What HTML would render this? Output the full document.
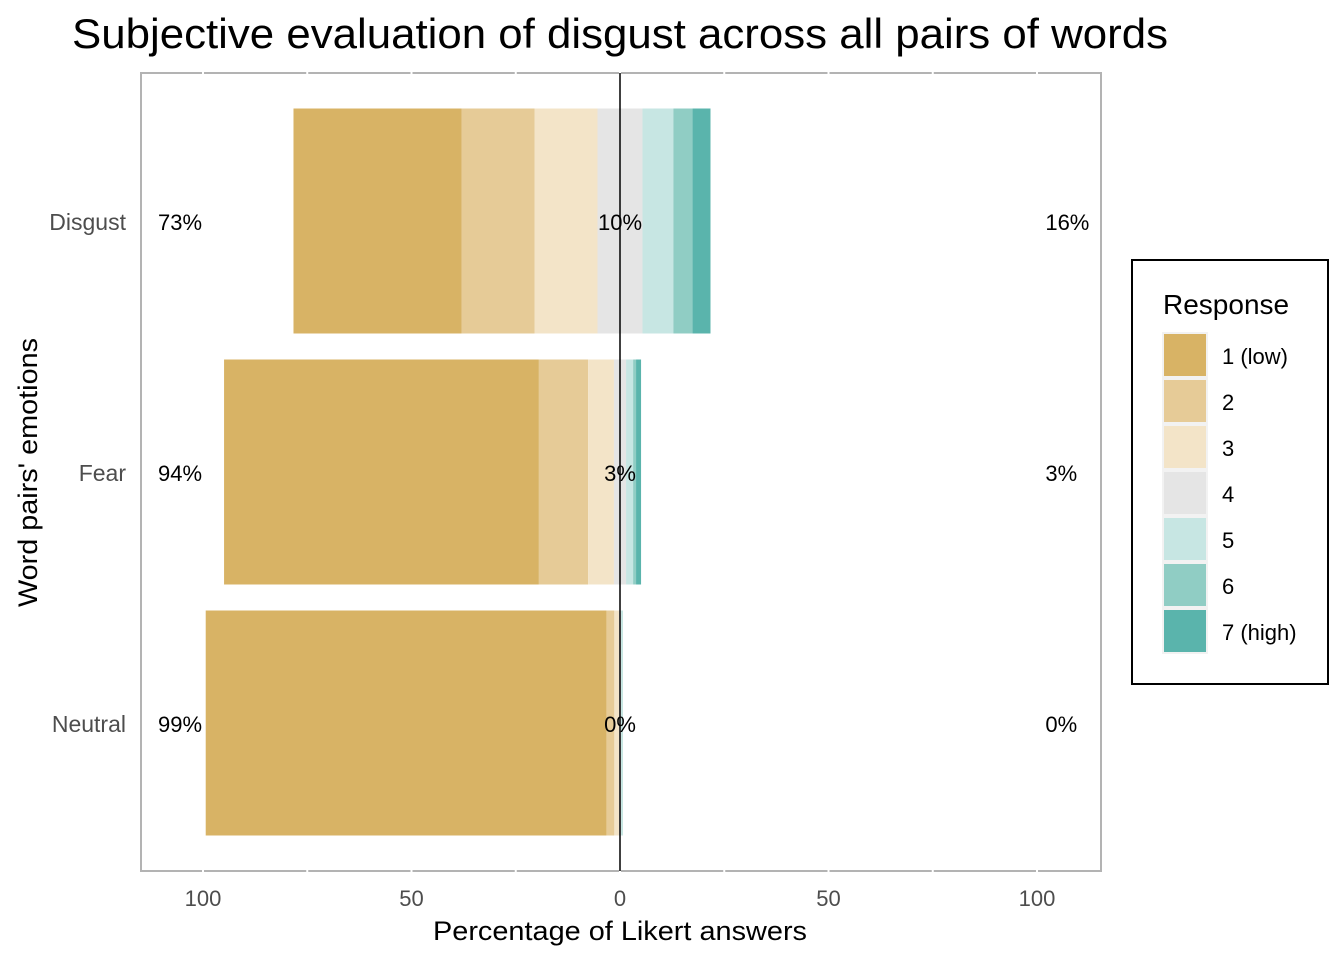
<!DOCTYPE html>
<html><head><meta charset="utf-8"><style>
html,body{margin:0;padding:0;background:#fff}
svg{display:block;font-family:"Liberation Sans",Arial,sans-serif}
</style></head><body>
<svg id="chart" width="1344" height="960" xmlns="http://www.w3.org/2000/svg">
<text x="72" y="48" font-size="42" textLength="1096" lengthAdjust="spacingAndGlyphs" fill="#000">Subjective evaluation of disgust across all pairs of words</text>
<g id="grid"></g>
<g id="bars"></g>
<rect x="141" y="73" width="960" height="798" fill="none" stroke="#b3b3b3" stroke-width="2"/>
<g id="grid2"></g>
<g id="labels"></g>
<g id="axes"></g>
<text x="433" y="940" font-size="27" textLength="374" lengthAdjust="spacingAndGlyphs">Percentage of Likert answers</text>
<text transform="translate(37,607) rotate(-90)" font-size="27" textLength="269" lengthAdjust="spacingAndGlyphs">Word pairs' emotions</text>
<g id="legend"></g>
</svg>
<script>
const categories = ["Disgust","Fear","Neutral"];
const levels = ["1 (low)","2","3","4","5","6","7 (high)"];
const colors = ["#d8b365","#e6cb97","#f3e4c8","#e5e5e5","#c7e6e3","#90cdc4","#5ab4ac"];
const valuesDisgust = [40.3,17.5,15.1,10.8,7.4,4.6,4.3];
const valuesFear = [75.5,11.8,6.2,2.9,1.7,0.7,1.2];
const valuesNeutral = [96.1,1.9,1.1,0.5,0.3,0.1,0.0];
const lowLabels = ["73%","94%","99%"];
const midLabels = ["10%","3%","0%"];
const highLabels = ["16%","3%","0%"];
const xTicks = [-100,-50,0,50,100];
const NS="http://www.w3.org/2000/svg";
const series=[valuesDisgust,valuesFear,valuesNeutral];
const x=v=>620+v*4.17;
const yC=i=>221+i*251;
const bw=225;
function mk(tag,attrs,parent){const e=document.createElementNS(NS,tag);for(const k in attrs)e.setAttribute(k,attrs[k]);parent.appendChild(e);return e;}
const g=document.getElementById('grid2');
for(let v=-100;v<=100;v+=25){
 const l=mk('line',{x1:x(v),x2:x(v),y1:71,y2:873,stroke:'#fff','stroke-width':2},g);
 
 
}
mk('rect',{x:143,y:75,width:956,height:794,fill:'#fff'},g);
const bg=document.getElementById('labels');
const barLayer=mk('g',{},bg);
series.forEach((vals,i)=>{
 let start=-(vals[0]+vals[1]+vals[2]+vals[3]/2);
 vals.forEach((v,j)=>{
  const r=mk('rect',{x:x(start),y:yC(i)-bw/2,width:Math.max(0,v*4.17),height:bw,fill:colors[j]},barLayer);
  
  
  start+=v;
 });
});
const zl=mk('line',{x1:x(0),x2:x(0),y1:73,y2:871,stroke:'#000','stroke-width':1.5},bg);


categories.forEach((c,i)=>{
 const y=yC(i)+9;
 const a=mk('text',{x:x(-105.5),y:y,'font-size':22,'text-anchor':'middle'},bg);a.textContent=lowLabels[i];
 
 
 const b=mk('text',{x:x(0),y:y,'font-size':22,'text-anchor':'middle'},bg);b.textContent=midLabels[i];
 
 
 const d=mk('text',{x:x(102),y:y,'font-size':22,'text-anchor':'start'},bg);d.textContent=highLabels[i];
 
 
 const t=mk('text',{x:126,y:y,'font-size':23,'text-anchor':'end',fill:'#4d4d4d'},bg);t.textContent=c;
 
 
});
const ax=document.getElementById('axes');
xTicks.forEach(v=>{
 const t=mk('text',{x:x(v),y:906,'font-size':22,'text-anchor':'middle',fill:'#4d4d4d'},ax);t.textContent=Math.abs(v);
 
 
});
const lg=document.getElementById('legend');
const box=mk('rect',{x:1132,y:260,width:196,height:424,fill:'#fff',stroke:'#000','stroke-width':2},lg);


const lt=mk('text',{x:1163,y:314,'font-size':28},lg);lt.textContent='Response';


levels.forEach((l,j)=>{
 const y=333+j*46;
 const r=mk('rect',{x:1163,y:y,width:44,height:44,fill:colors[j],stroke:'#f2f2f2','stroke-width':2},lg);
 
 
 const t=mk('text',{x:1222,y:y+31,'font-size':22},lg);t.textContent=l;
 
 
});
</script>
</body></html>
